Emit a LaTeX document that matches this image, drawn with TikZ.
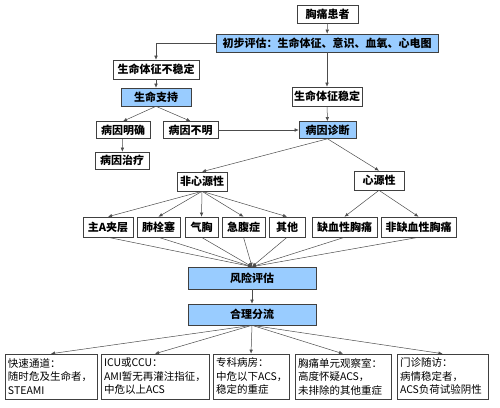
\documentclass[tikz,border=0pt]{standalone}
\usepackage{fontspec}
\setmainfont{Noto Sans CJK SC}
\usetikzlibrary{arrows.meta}
\definecolor{boxblue}{HTML}{99CCFF}

\begin{document}
\begin{tikzpicture}[x=1pt, y=-1pt,
                    box/.style = {draw=black!75, line width=0.6pt, rectangle, inner sep=1pt, minimum height=18pt, font=\fontsize{11}{13}\selectfont\bfseries},
                    hl/.style = {box, fill=boxblue},
                    outbox/.style = {draw=black!75, line width=0.6pt, rectangle, inner xsep=3pt, inner ysep=2pt, minimum height=45pt, align=left, text width=#1, font=\fontsize{10.5}{13.5}\selectfont},
                    arr/.style = {draw=black!70, line width=0.5pt, -{Latex[length=4pt, width=3.5pt]}}
                ]
                    \useasboundingbox (0,0) rectangle (500,407);

                    \node[box, minimum width=61pt] (patient) at (327.5,14) {胸痛患者};
                    \node[hl, minimum width=222pt] (assess) at (327,43) {初步评估：生命体征、意识、血氧、心电图};
                    \node[box, minimum width=86pt, minimum height=19pt] (unstable) at (156,69.5) {生命体征不稳定};
                    \node[hl, minimum width=70pt] (support) at (156,97) {生命支持};
                    \node[box, minimum width=70pt, minimum height=19pt] (stable) at (327,96.5) {生命体征稳定};
                    \node[box, minimum width=54pt, minimum height=17pt] (known) at (123,130) {病因明确};
                    \node[box, minimum width=55pt, minimum height=17pt] (unknown) at (190.5,130) {病因不明};
                    \node[hl, minimum width=57pt, minimum height=17pt] (diag) at (327.5,130) {病因诊断};
                    \node[box, minimum width=54pt, minimum height=17pt] (treat) at (122,160.5) {病因治疗};
                    \node[box, minimum width=50pt, minimum height=19pt] (noncard) at (202,181.5) {非心源性};
                    \node[box, minimum width=50pt, minimum height=19pt] (card) at (379,180.5) {心源性};

                    \node[box, minimum width=50pt, minimum height=20pt] (aorta) at (108,227) {主A夹层};
                    \node[box, minimum width=43pt, minimum height=20pt] (pe) at (158.5,227) {肺栓塞};
                    \node[box, minimum width=33pt, minimum height=20pt] (ptx) at (201.5,227) {气胸};
                    \node[box, minimum width=43pt, minimum height=20pt] (abd) at (243.5,227) {急腹症};
                    \node[box, minimum width=36pt, minimum height=20pt] (other) at (287,227) {其他};
                    \node[box, minimum width=65pt, minimum height=20pt] (isch) at (344.5,227) {缺血性胸痛};
                    \node[box, minimum width=75pt, minimum height=20pt] (nonisch) at (418.5,227) {非缺血性胸痛};

                    \node[hl, minimum width=128pt, minimum height=22pt] (risk) at (252,278) {风险评估};
                    \node[hl, minimum width=128pt, minimum height=21pt] (triage) at (252,314.5) {合理分流};

                    \node[outbox=86pt] (fast) at (51,376.5) {快速通道：\\随时危及生命者，\\STEAMI};
                    \node[outbox=102pt] (icu) at (155,376.5) {ICU或CCU：\\AMI暂无再灌注指征，\\中危以上ACS};
                    \node[outbox=70pt] (ward) at (251,376.5) {专科病房：\\中危以下ACS，\\稳定的重症};
                    \node[outbox=90pt] (unit) at (343,376.5) {胸痛单元观察室：\\高度怀疑ACS，\\未排除的其他重症};
                    \node[outbox=85pt] (clinic) at (442.5,376.5) {门诊随访：\\病情稳定者，\\ACS负荷试验阴性};

                    \draw[arr] (patient) -- (assess);
                    \draw[arr] (assess.west) -| (unstable.north);
                    \draw[arr] (assess) -- (stable);
                    \draw[arr] (unstable) -- (support);
                    \draw[arr] (support.south) -- (known.north);
                    \draw[arr] (support.south) -- (unknown.north);
                    \draw[arr] (known) -- (treat);
                    \draw[arr] (unknown) -- (diag);
                    \draw[arr] (stable) -- (diag);
                    \draw[arr] (diag.south) -- (noncard.north);
                    \draw[arr] (diag.south) -- (card.north);
                    \foreach \n in {aorta, pe, ptx, abd, other}
                        \draw[arr] (noncard.south) -- (\n.north);
                    \foreach \n in {isch, nonisch}
                        \draw[arr] (card.south) -- (\n.north);
                    \foreach \n in {aorta, pe, ptx, abd, other, isch, nonisch}
                        \draw[arr] (\n.south) -- (risk.north);
                    \draw[arr] (risk) -- (triage);
                    \foreach \n in {fast, icu, ward, unit, clinic}
                        \draw[arr] (triage.south) -- (\n.north);
                \end{tikzpicture}
\end{document}
